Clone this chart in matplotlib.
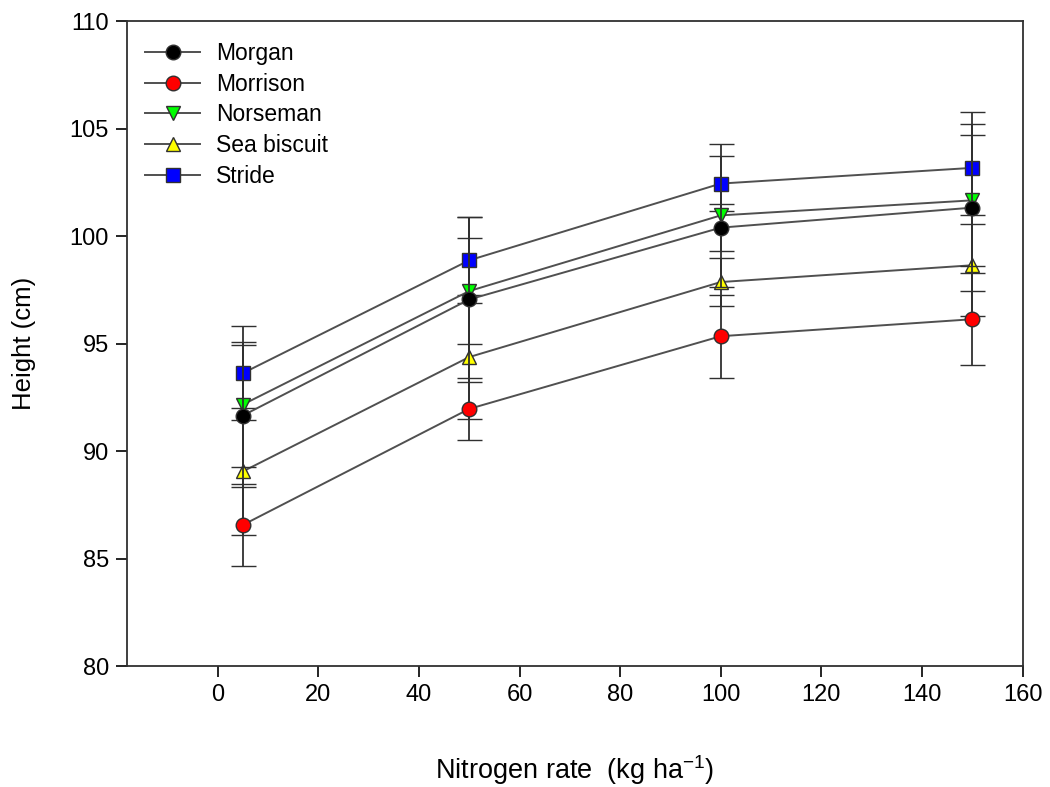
import matplotlib
matplotlib.use("Agg")
import matplotlib.pyplot as plt
from matplotlib.lines import Line2D

plt.rcParams['font.family'] = ['Liberation Sans', 'DejaVu Sans']
plt.rcParams['mathtext.default'] = 'regular'

# Nitrogen rate (kg/ha) and mean plant height (cm) per cultivar, with error bars
nitrogen = [5, 50, 100, 150]

morgan = [91.65, 97.05, 100.39, 101.32]
morrison = [86.56, 91.96, 95.34, 96.13]
norseman = [92.16, 97.44, 100.96, 101.66]
sea_biscuit = [89.05, 94.37, 97.86, 98.64]
stride = [93.62, 98.87, 102.44, 103.17]

morgan_err = [3.3, 3.85, 1.1, 3.87]
morrison_err = [1.9, 1.45, 1.94, 2.13]
norseman_err = [2.9, 2.45, 3.34, 3.06]
sea_biscuit_err = [2.95, 2.9, 1.1, 2.36]
stride_err = [2.2, 2.0, 1.27, 2.6]

series = [
    ("Morgan", morgan, morgan_err, "o", "black"),
    ("Morrison", morrison, morrison_err, "o", "red"),
    ("Norseman", norseman, norseman_err, "v", "#00ff00"),
    ("Sea biscuit", sea_biscuit, sea_biscuit_err, "^", "yellow"),
    ("Stride", stride, stride_err, "s", "blue"),
]

line_col = "#505050"
edge_col = "#303030"

fig = plt.figure(figsize=(10.5, 7.87), dpi=100)
ax = fig.add_axes([0.121, 0.1537, 0.853, 0.8196])

# drawn back to front so Morgan ends up on top
for i, (name, y, err, mk, col) in enumerate(reversed(series)):
    ax.errorbar(nitrogen, y, yerr=err, color=line_col, ecolor=edge_col,
                elinewidth=1.3, capsize=9, capthick=1.3, lw=1.4,
                marker=mk, ms=10.5, mfc=col, mec=edge_col, mew=1.0,
                zorder=3 + i)

# legend entries show only line + marker
leg_handles = [Line2D([], [], color=line_col, lw=1.4, marker=mk, ms=10.5,
                      mfc=col, mec=edge_col, mew=1.0)
               for _, _, _, mk, col in series]
ax.legend(leg_handles, [s[0] for s in series], loc="upper left",
          bbox_to_anchor=(-0.008, 1.006), frameon=False, fontsize=16.5,
          handlelength=2.4, handletextpad=0.7, labelspacing=0.33,
          borderaxespad=0.7, borderpad=0.4)

ax.set_xlim(-18, 160)
ax.set_ylim(80, 110)
ax.set_xticks(range(0, 161, 20))
ax.set_yticks(range(80, 111, 5))
ax.tick_params(direction="out", length=8, width=1.2, labelsize=17, pad=5)
for sp in ax.spines.values():
    sp.set_linewidth(1.3)
    sp.set_color(edge_col)

ax.set_xlabel(r"Nitrogen rate  (kg ha$^{-1}$)", fontsize=19.5, labelpad=34)
ax.set_ylabel("Height (cm)", fontsize=18.5, labelpad=24)

fig.savefig("out.png", dpi=100)
